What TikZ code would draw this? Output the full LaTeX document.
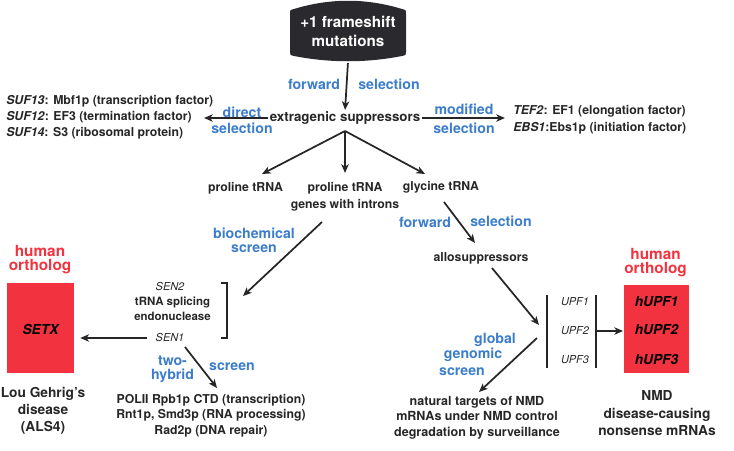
\documentclass[tikz,border=0pt]{standalone}
\usepackage{fontspec}
\setmainfont{TeX Gyre Heros}
\usetikzlibrary{arrows.meta}
\definecolor{dark}{HTML}{262626}
\definecolor{labblue}{HTML}{3B7DCB}
\definecolor{orthored}{HTML}{F2333F}
\definecolor{boxdark}{HTML}{2A2A2E}

\begin{document}
\begin{tikzpicture}[x=0.75pt, y=-0.75pt,
    >={Stealth[length=6.5pt, width=5.5pt, inset=1.8pt]},
    arr/.style={->, line width=1.3pt, draw=dark},
    bar/.style={line width=1.3pt, draw=dark},
    txt/.style={text=dark, font=\fontsize{9.2}{11.6}\selectfont\bfseries, inner sep=0pt, align=center},
    big/.style={text=dark, font=\fontsize{10.3}{12.8}\selectfont\bfseries, inner sep=0pt, align=center},
    gene/.style={text=dark, font=\fontsize{8.2}{10}\selectfont\itshape, inner sep=0pt},
    method/.style={text=labblue, font=\fontsize{10.6}{10.5}\selectfont\bfseries, inner sep=0pt, align=center},
    ortho/.style={text=orthored, font=\fontsize{11.5}{10.5}\selectfont\bfseries, inner sep=0pt, align=center},
    hgene/.style={text=black, font=\fontsize{10.3}{12}\selectfont\bfseries\itshape, inner sep=0pt},
    redbox/.style={fill=orthored, inner sep=0pt}
  ]
    \useasboundingbox (0,0) rectangle (734,450);

    % Top box
    \fill[boxdark] (290,14) .. controls (290,10) .. (294,9) .. controls (330,-2) and (366,-2) .. (402,9)
        .. controls (406,10) .. (406,14) -- (406,52) .. controls (406,55) .. (402,56)
        .. controls (366,63) and (330,63) .. (294,56) .. controls (290,55) .. (290,52) -- cycle;
    \node[text=white, font=\fontsize{11.4}{14.25}\selectfont\bfseries, align=center,
        minimum width=87pt, minimum height=45pt, inner sep=0pt] (mut) at (348,31.5) {+1 frameshift\\mutations};

    % Extragenic suppressors
    \node[txt, font=\fontsize{10}{12}\selectfont\bfseries] (extra) at (345,118) {extragenic suppressors};
    \node[method] (fwda) at (314,84) {forward};
    \node[method] (sela) at (389,84) {selection};
    \draw[arr, shorten <=1pt, shorten >=1pt] (mut.south) -- (extra.north);

    \node[txt, anchor=west, align=left, font=\fontsize{9.2}{12}\selectfont\bfseries] (suf) at (6,117)
        {\textit{SUF13}: Mbf1p (transcription factor)\\
         \textit{SUF12}: EF3 (termination factor)\\
         \textit{SUF14}: S3 (ribosomal protein)};
    \node[txt, anchor=west, align=left, font=\fontsize{9.2}{12.75}\selectfont\bfseries] (tef) at (513,119.5)
        {\textit{TEF2}: EF1 (elongation factor)\\
         \textit{EBS1}:Ebs1p (initiation factor)};
    \node[method] (direct) at (242,120) {direct\\[1.5pt]selection};
    \node[method] (modif) at (464,118.5) {modified\\[3.75pt]selection};
    \coordinate (sufend) at (204,118);
    \coordinate (tefend) at (505,118);
    \draw[arr, shorten <=1pt] (extra.west) -- (sufend);
    \draw[arr, shorten <=1pt] (extra.east) -- (tefend);

    % tRNA branches
    \coordinate (split) at (345,131);
    \node[txt] (pro) at (245.5,188) {proline tRNA};
    \node[txt, font=\fontsize{9.2}{12.75}\selectfont\bfseries] (proi) at (345,196.5) {proline tRNA\\genes with introns};
    \node[txt] (gly) at (441,187) {glycine tRNA};
    \coordinate (proin) at (262,174);
    \coordinate (proiin) at (345,173);
    \coordinate (glyin) at (425,174);
    \draw[arr] (split) -- (proin);
    \draw[arr] (split) -- (proiin);
    \draw[arr] (split) -- (glyin);

    % SEN branch
    \coordinate (proiout) at (322,222);
    \coordinate (senin) at (243,296);
    \draw[arr] (proiout) -- (senin);
    \node[method] (bio) at (254,240) {biochemical\\screen};
    \node[gene] (sen2) at (170,287) {SEN2};
    \node[txt, font=\fontsize{8.6}{11.25}\selectfont\bfseries] (endo) at (172.5,308.5) {tRNA splicing\\endonuclease};
    \node[gene] (sen1) at (170,338) {SEN1};
    \draw[bar] (221,283) -- (227,283) -- (227,338) -- (221,338);

    \node[ortho] (orthol) at (40,260) {human\\ortholog};
    \node[redbox, minimum width=50.25pt, minimum height=67.5pt] (setx) at (40.5,328) {};
    \node[hgene] at (40.5,329) {SETX};
    \node[big] (lou) at (43,411) {Lou Gehrig's\\disease\\(ALS4)};
    \draw[arr, shorten <=6.5pt, shorten >=4.5pt] (sen1.west) -- (sen1.west -| setx.east);

    \coordinate (sen1out) at (185,347);
    \coordinate (polin) at (217,388);
    \draw[arr] (sen1out) -- (polin);
    \node[method] (twohyb) at (172.5,369) {two-\\hybrid};
    \node[method] (scrna) at (232,367) {screen};
    \node[txt, font=\fontsize{9.2}{11.6}\selectfont\bfseries] (pol) at (211,415.5)
        {POLII Rpb1p CTD (transcription)\\Rnt1p, Smd3p (RNA processing)\\Rad2p (DNA repair)};

    % UPF branch
    \coordinate (glyout) at (444,202);
    \coordinate (alloin) at (475,243);
    \draw[arr] (glyout) -- (alloin);
    \node[method] (fwdb) at (425,222) {forward};
    \node[method] (selb) at (501,221) {selection};
    \node[txt] (allo) at (481,258) {allosuppressors};
    \coordinate (alloout) at (492,268);
    \coordinate (upfin) at (539,325);
    \draw[arr] (alloout) -- (upfin);

    \draw[bar] (547,295) -- (547,368);
    \draw[bar] (596,295) -- (596,368);
    \node[gene] (upf1) at (575,302) {UPF1};
    \node[gene] (upf2) at (575,331) {UPF2};
    \node[gene] (upf3) at (575,360) {UPF3};

    \coordinate (upfout) at (537,338);
    \coordinate (natin) at (479,392);
    \draw[arr] (upfout) -- (natin);
    \node[method] (glob) at (495,340) {global};
    \node[method] (genom) at (473,355) {genomic};
    \node[method] (scrnb) at (462,372) {screen};
    \node[txt, font=\fontsize{9.4}{11.6}\selectfont\bfseries] (nat) at (477,417.5)
        {natural targets of NMD\\mRNAs under NMD control\\degradation by surveillance};

    \node[ortho] (orthor) at (655.5,263) {human\\ortholog};
    \node[redbox, minimum width=48.75pt, minimum height=66pt] (hupf) at (656.5,329) {};
    \node[hgene] at (656.5,302) {hUPF1};
    \node[hgene] at (656.5,330) {hUPF2};
    \node[hgene] at (656.5,360) {hUPF3};
    \coordinate (upfbar) at (596,331);
    \draw[arr, shorten >=0.5pt] (upfbar) -- (upfbar -| hupf.west);
    \node[big, font=\fontsize{10.3}{13.1}\selectfont\bfseries] (nmd) at (657,413.5) {NMD\\disease-causing\\nonsense mRNAs};
\end{tikzpicture}
\end{document}
